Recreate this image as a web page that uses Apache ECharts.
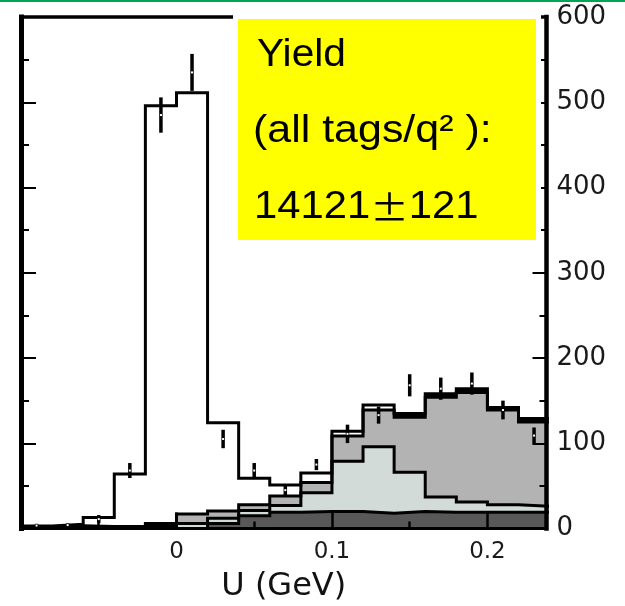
<!DOCTYPE html>
<html><head><meta charset="utf-8">
<script src="https://cdn.jsdelivr.net/npm/echarts@6/dist/echarts.min.js"></script>
<style>html,body{margin:0;padding:0;background:#fff}#c{width:625px;height:606px}</style>
</head><body><div id="c"></div>
<script>
// Histogram bin edges (GeV)
const binEdges = [-0.10,-0.08,-0.06,-0.04,-0.02,0.00,0.02,0.04,0.06,0.08,0.10,0.12,0.14,0.16,0.18,0.20,0.22,0.24];
// Stacked components (counts per bin), bottom to top
const bgDark   = [0,0,0,0,0,0,6,15,19,20,20,18,20,19,19,19,19];
const bgLight  = [0,0,0,0,3,6,6,6,8,22,59,78,46,18,12,9,7];
const bgMedium = [0,0,0,0,3,11,8.5,7,11,12,29.5,43,64.5,117,128.5,111,99];
const bgBlack  = [3,5,4,4,0,0,0,0,0,0,0,0,4.5,4,4.5,3,4];
const signal   = [0,0,9,60,490,494,103.5,31,13,11,5.5,6,0,0,0,0,0];
// Data points with errors at bin centres
const dataCenters = [-0.09,-0.07,-0.05,-0.03,-0.01,0.01,0.03,0.05,0.07,0.09,0.11,0.13,0.15,0.17,0.19,0.21,0.23];
const dataValues  = [3.5,4,11,68,485,535,105,68,45,75,111,133,168,164,170,139,109];
const dataErrors  = [2,2,4.7,8.8,20.7,21.7,10.8,8.8,5.9,6.5,10.8,10,13,13,13,11,9.5];
// Tick labels
const xTickLabels = [0, 0.1, 0.2];
const yTickLabels = [0, 100, 200, 300, 400, 500, 600];

function cumulate(...arrs){
  return arrs[0].map((_, i) => arrs.reduce((s, a) => s + a[i], 0));
}
const lvl1 = cumulate(bgDark);
const lvl2 = cumulate(bgDark, bgLight);
const lvl3 = cumulate(bgDark, bgLight, bgMedium);
const lvl4 = cumulate(bgDark, bgLight, bgMedium, bgBlack);
const total = cumulate(bgDark, bgLight, bgMedium, bgBlack, signal);

function stepData(arr){
  const d = arr.map((v, i) => [binEdges[i], v]);
  d.push([binEdges[arr.length], arr[arr.length - 1]]);
  return d;
}
function areaSeries(arr, color){
  return {type:'line', step:'end', data:stepData(arr), symbol:'none', silent:true,
    lineStyle:{width:0}, areaStyle:{color:color, opacity:1, origin:'start'}, animation:false};
}
function outlineSeries(arr){
  return {type:'line', step:'end', data:stepData(arr), symbol:'none', silent:true,
    lineStyle:{width:3, color:'#000', join:'miter'}, animation:false};
}

const XMIN = -0.1, XMAX = 0.238;
const font = 'DejaVu Sans';
const isLabel = (arr, v) => arr.some(t => Math.abs(t - v) < 1e-9);

const chart = echarts.init(document.getElementById('c'));
chart.setOption({
  animation:false,
  grid:{left:21, right:78.5, top:17, bottom:77.5, containLabel:false, outerBoundsMode:'none'},
  xAxis:[
    {type:'value', position:'bottom', min:XMIN, max:XMAX, interval:0.1, z:10,
     axisLine:{show:true, onZero:false, lineStyle:{color:'#000', width:3, cap:'square'}},
     axisTick:{show:true, inside:true, length:16, lineStyle:{color:'#000', width:2.5}},
     axisLabel:{show:true, margin:12, fontFamily:font, fontSize:23, color:'#1a1a1a',
       formatter:v => isLabel(xTickLabels, v) ? String(Math.round(v*10)/10) : ''},
     splitLine:{show:false},
     name:'U (GeV)', nameLocation:'middle', nameGap:42,
     nameTextStyle:{fontFamily:font, fontSize:32, color:'#111'}},
    {type:'value', position:'bottom', min:XMIN, max:XMAX, interval:0.05, z:10,
     axisLine:{show:false, onZero:false},
     axisTick:{show:true, inside:true, length:7, lineStyle:{color:'#000', width:2.5}},
     axisLabel:{show:false}, splitLine:{show:false}},
    {type:'value', position:'top', min:XMIN, max:XMAX, z:10,
     axisLine:{show:true, onZero:false, lineStyle:{color:'#000', width:3.5, cap:'square'}},
     axisTick:{show:false}, axisLabel:{show:false}, splitLine:{show:false}}
  ],
  yAxis:[
    {type:'value', position:'right', min:0, max:600, interval:100, z:10,
     axisLine:{show:true, onZero:false, lineStyle:{color:'#000', width:4.5, cap:'square'}},
     axisTick:{show:true, inside:true, length:14, lineStyle:{color:'#000', width:2}},
     minorTick:{show:true, splitNumber:2, length:7, lineStyle:{color:'#000', width:2}},
     axisLabel:{show:true, margin:10, fontFamily:font, fontSize:26, color:'#1a1a1a',
       formatter:v => isLabel(yTickLabels, v) ? String(v) : ''},
     splitLine:{show:false}, minorSplitLine:{show:false}},
    {type:'value', position:'left', min:0, max:600, interval:100, z:10,
     axisLine:{show:true, onZero:false, lineStyle:{color:'#000', width:5, cap:'square'}},
     axisTick:{show:true, inside:true, length:15, lineStyle:{color:'#000', width:2}},
     minorTick:{show:true, splitNumber:2, length:8, lineStyle:{color:'#000', width:2}},
     axisLabel:{show:false}, splitLine:{show:false}, minorSplitLine:{show:false}}
  ],
  series:[
    areaSeries(lvl4, '#000000'),
    areaSeries(lvl3, '#b3b3b3'),
    areaSeries(lvl2, '#d2dbd8'),
    areaSeries(lvl1, '#585858'),
    outlineSeries(lvl1),
    outlineSeries(lvl2),
    outlineSeries(lvl3),
    outlineSeries(total),
    {type:'custom', silent:true, animation:false, z:5,
     data:dataCenters.map((c, i) => [c, dataValues[i], dataErrors[i]]),
     renderItem:(params, api) => {
       const x = api.value(0), v = api.value(1), e = api.value(2);
       const top = api.coord([x, v + e]), bot = api.coord([x, Math.max(0, v - e)]), mid = api.coord([x, v]);
       return {type:'group', children:[
         {type:'line', shape:{x1:top[0], y1:top[1], x2:bot[0], y2:bot[1]}, style:{stroke:'#000', lineWidth:3.5}},
         {type:'rect', shape:{x:mid[0]-1, y:mid[1]-1, width:2, height:2}, style:{fill:'#fff'}}
       ]};
     }}
  ],
  graphic:[
    {type:'rect', z:100, shape:{x:0, y:0, width:625, height:2}, style:{fill:'#00a651'}},
    {type:'rect', z:100, shape:{x:233, y:8, width:308, height:236}, style:{fill:'#ffffff'}},
    {type:'rect', z:101, shape:{x:238, y:19, width:298, height:221}, style:{fill:'#ffff00'}},
    {type:'text', z:102, x:257, y:56, scaleX:1.07,
     style:{text:'Yield', fontFamily:'Liberation Sans', fontSize:38, fill:'#000', align:'left', verticalAlign:'middle'}},
    {type:'text', z:102, x:253, y:132, scaleX:1.13,
     style:{text:'(all tags/q\u00B2 ):', fontFamily:'Liberation Sans', fontSize:38, fill:'#000', align:'left', verticalAlign:'middle'}},
    {type:'text', z:102, x:254, y:208, scaleX:1.1,
     style:{text:'{d|14121}{p|\u00B1}{d|121}', fill:'#000', align:'left', verticalAlign:'middle',
       rich:{d:{fontFamily:'Liberation Sans', fontSize:38, fill:'#000'},
             p:{fontFamily:'Noto Sans CJK JP', fontSize:35, fill:'#000'}}}}
  ]
});
</script></body></html>
